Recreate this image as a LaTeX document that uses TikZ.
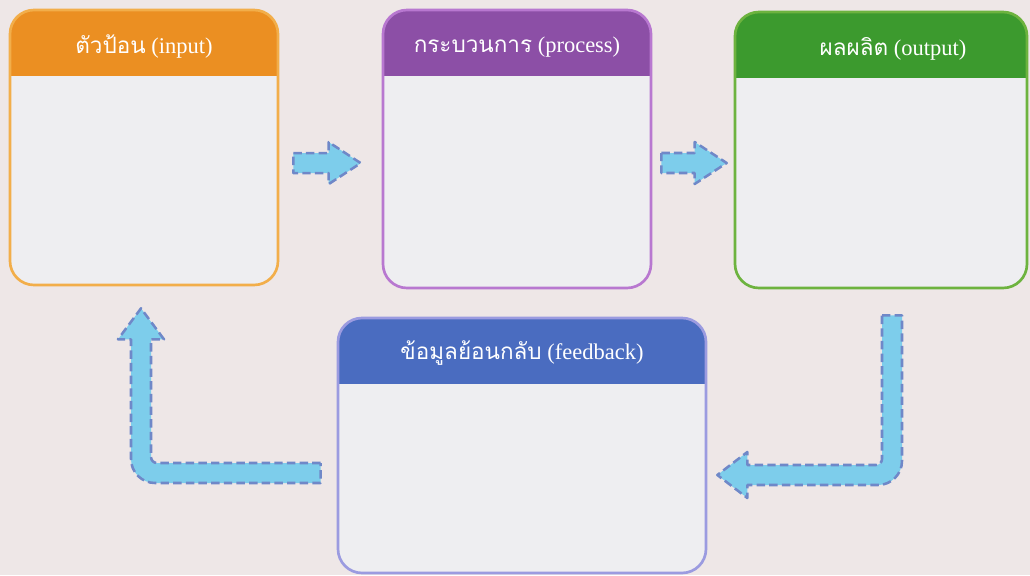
\documentclass[tikz,border=0pt]{standalone}
\usepackage{fontspec}
\setmainfont{Liberation Serif}
\newfontfamily\thaifont[Script=Thai]{Loma}
\usetikzlibrary{calc}
\definecolor{paper}{HTML}{EEE7E7}
\definecolor{bodyfill}{HTML}{EEEEF1}
\definecolor{inhead}{HTML}{EB8F22}
\definecolor{inline}{HTML}{F2AE4A}
\definecolor{prochead}{HTML}{8C4FA6}
\definecolor{procline}{HTML}{B878D0}
\definecolor{outhead}{HTML}{3C9A2E}
\definecolor{outline}{HTML}{6DB33F}
\definecolor{fbhead}{HTML}{4A6CC0}
\definecolor{fbline}{HTML}{9B9BE0}
\definecolor{arrowfill}{HTML}{7DCDEB}
\definecolor{arrowline}{HTML}{6F88C8}

\begin{document}
\begin{tikzpicture}[
  stage/.style n args={2}{draw=#2, line width=1.9pt, fill=bodyfill, rounded corners=0.6cm, inner sep=0pt,
    path picture={\fill[#1, sharp corners] (path picture bounding box.north west) rectangle ([yshift=-1.65cm]path picture bounding box.north east);}},
  title/.style={text=white, font=\fontsize{16}{18}\selectfont},
  flow/.style={fill=arrowfill, draw=arrowline, line width=1.8pt, dash pattern=on 6pt off 3pt, line join=round}]
\fill[paper] (0,0) rectangle (25.75,-14.375);

\node[stage={inhead}{inline}, minimum width=6.7cm, minimum height=6.875cm] (input) at (3.6,-3.6875) {};
\node[title] (input-title) at ([yshift=-0.95cm]input.north) {{\thaifont ตัวป้อน} (input)};
\node[stage={prochead}{procline}, minimum width=6.7cm, minimum height=6.95cm] (process) at (12.925,-3.725) {};
\node[title] (process-title) at ([yshift=-0.95cm]process.north) {{\thaifont กระบวนการ} (process)};
\node[stage={outhead}{outline}, minimum width=7.3cm, minimum height=6.9cm] (output) at (22.025,-3.75) {};
\node[title] (output-title) at ([xshift=0.3cm,yshift=-0.95cm]output.north) {{\thaifont ผลผลิต} (output)};
\node[stage={fbhead}{fbline}, minimum width=9.2cm, minimum height=6.375cm] (feedback) at (13.05,-11.1375) {};
\node[title] (feedback-title) at ([yshift=-0.9cm]feedback.north) {{\thaifont ข้อมูลย้อนกลับ} (feedback)};

\coordinate (a1s) at ($(input.east)+(0.35,-0.39)$);
\coordinate (a1e) at (process.west |- a1s);
\coordinate (a1t) at ($(a1e)+(-0.525,0)$);
\draw[flow] ($(a1s)+(0,0.25)$) -- ($(a1t)+(-0.8,0.25)$) -- ($(a1t)+(-0.8,0.525)$) -- (a1t) -- ($(a1t)+(-0.8,-0.525)$) -- ($(a1t)+(-0.8,-0.25)$) -- ($(a1s)+(0,-0.25)$) -- cycle;

\coordinate (a2s) at ($(process.east)+(0.225,-0.35)$);
\coordinate (a2e) at (output.west |- a2s);
\coordinate (a2t) at ($(a2e)+(-0.175,0)$);
\draw[flow] ($(a2s)+(0,0.25)$) -- ($(a2t)+(-0.8,0.25)$) -- ($(a2t)+(-0.8,0.525)$) -- (a2t) -- ($(a2t)+(-0.8,-0.525)$) -- ($(a2t)+(-0.8,-0.25)$) -- ($(a2s)+(0,-0.25)$) -- cycle;

\coordinate (a3s) at ($(output.south)+(0.275,-0.65)$);
\coordinate (a3t) at ($(feedback.east)+(0.25,-0.7375)$);
\coordinate (a3c) at (a3s |- a3t);
\draw[flow] ($(a3s)+(-0.25,0)$) -- ($(a3s)+(0.25,0)$) -- ($(a3c)+(0.25,0.35)$) arc[start angle=0, end angle=-90, radius=0.6] -- ($(a3t)+(0.75,-0.25)$) -- ($(a3t)+(0.75,-0.575)$) -- (a3t) -- ($(a3t)+(0.75,0.575)$) -- ($(a3t)+(0.75,0.25)$) -- ($(a3c)+(-0.4,0.25)$) arc[start angle=-90, end angle=0, radius=0.15] -- cycle;

\coordinate (a4s) at ($(feedback.west)+(-0.4,-0.6875)$);
\coordinate (a4t) at ($(input.south)+(-0.075,-0.55)$);
\coordinate (a4c) at (a4t |- a4s);
\draw[flow] ($(a4s)+(0,0.25)$) -- ($(a4c)+(0.4,0.25)$) arc[start angle=-90, end angle=-180, radius=0.15] -- ($(a4t)+(0.25,-0.775)$) -- ($(a4t)+(0.575,-0.775)$) -- (a4t) -- ($(a4t)+(-0.575,-0.775)$) -- ($(a4t)+(-0.25,-0.775)$) -- ($(a4c)+(-0.25,0.35)$) arc[start angle=180, end angle=270, radius=0.6] -- ($(a4s)+(0,-0.25)$) -- cycle;
\end{tikzpicture}
\end{document}
